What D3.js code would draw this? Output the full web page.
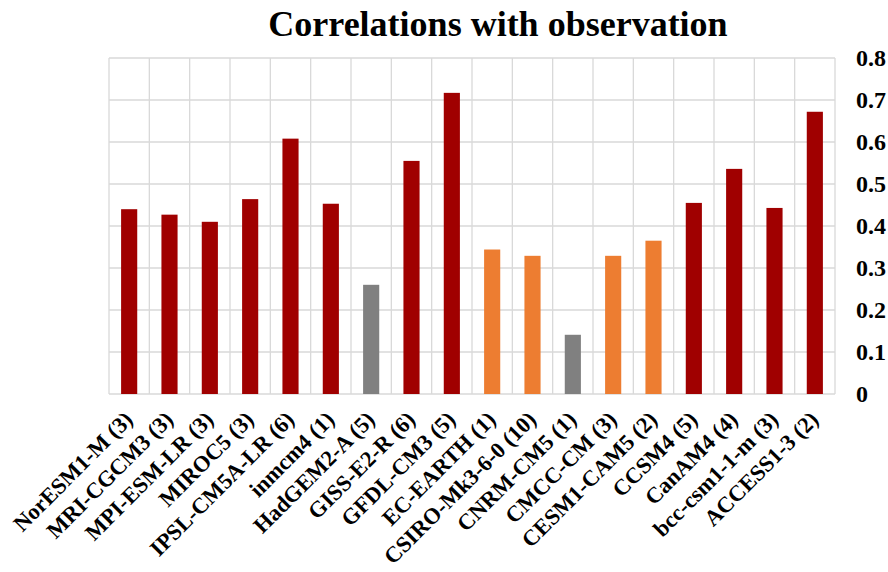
<!DOCTYPE html>
<html lang="en">
<head>
<meta charset="utf-8">
<title>Correlations with observation</title>
<script src="https://d3js.org/d3.v7.min.js"></script>
<style>
  body { margin: 0; background: #fff; }
  text { font-family: "Liberation Serif", "Times New Roman", serif; font-weight: bold; fill: #000; }
</style>
</head>
<body>
<div id="chart"></div>
<script>
// model names with ensemble size
var models = ["NorESM1-M (3)", "MRI-CGCM3 (3)", "MPI-ESM-LR (3)", "MIROC5 (3)", "IPSL-CM5A-LR (6)",
  "inmcm4 (1)", "HadGEM2-A (5)", "GISS-E2-R (6)", "GFDL-CM3 (5)", "EC-EARTH (1)",
  "CSIRO-Mk3-6-0 (10)", "CNRM-CM5 (1)", "CMCC-CM (3)", "CESM1-CAM5 (2)", "CCSM4 (5)",
  "CanAM4 (4)", "bcc-csm1-1-m (3)", "ACCESS1-3 (2)"];
var correlations = [0.440, 0.427, 0.410, 0.464, 0.608, 0.453, 0.260, 0.555, 0.717, 0.344,
  0.329, 0.141, 0.329, 0.365, 0.455, 0.536, 0.443, 0.672];
// colour group of each bar
var groups = ["a", "a", "a", "a", "a", "a", "c", "a", "a", "b",
  "b", "c", "b", "b", "a", "a", "a", "a"];
var yTicks = [0, 0.1, 0.2, 0.3, 0.4, 0.5, 0.6, 0.7, 0.8];

var width = 888, height = 572;
var margin = {top: 58, right: 53, bottom: 178, left: 109};

var data = models.map(function(m, i) {
  return {name: m, value: correlations[i], group: groups[i]};
});

var svg = d3.select("#chart").append("svg")
  .attr("width", width)
  .attr("height", height);

var x = d3.scaleBand()
  .domain(models)
  .range([margin.left, width - margin.right])
  .paddingInner(0)
  .paddingOuter(0);

var y = d3.scaleLinear()
  .domain([0, 0.8])
  .range([height - margin.bottom, margin.top]);

var color = d3.scaleOrdinal()
  .domain(["a", "b", "c"])
  .range(["#a00000", "#ed7d31", "#808080"]);

// gridlines
var grid = svg.append("g").attr("stroke", "#d9d9d9").attr("stroke-width", 1.3);
grid.selectAll("line.h")
  .data(yTicks)
  .enter().append("line")
  .attr("class", "h")
  .attr("x1", margin.left)
  .attr("x2", width - margin.right)
  .attr("y1", function(d) { return y(d); })
  .attr("y2", function(d) { return y(d); });

var bounds = models.map(function(m) { return x(m); }).concat([width - margin.right]);
grid.selectAll("line.v")
  .data(bounds)
  .enter().append("line")
  .attr("class", "v")
  .attr("x1", function(d) { return d; })
  .attr("x2", function(d) { return d; })
  .attr("y1", y(0.8))
  .attr("y2", y(0));

// bars
var barW = x.bandwidth() * 0.4;
svg.selectAll("rect.bar")
  .data(data)
  .enter().append("rect")
  .attr("class", "bar")
  .attr("x", function(d) { return x(d.name) + (x.bandwidth() - barW) / 2; })
  .attr("width", barW)
  .attr("y", function(d) { return y(d.value); })
  .attr("height", function(d) { return y(0) - y(d.value); })
  .attr("fill", function(d) { return color(d.group); });

// right y axis
var yAxis = d3.axisRight(y)
  .tickValues(yTicks)
  .tickSize(0)
  .tickPadding(21)
  .tickFormat(function(d) { return d === 0 ? "0" : d3.format(".1f")(d); });

var ya = svg.append("g")
  .attr("transform", "translate(" + (width - margin.right) + ",0)")
  .call(yAxis);
ya.select(".domain").remove();
ya.selectAll("text")
  .attr("font-size", 24)
  .attr("font-family", null);

// category labels, rotated
svg.selectAll("text.cat")
  .data(data)
  .enter().append("text")
  .attr("class", "cat")
  .attr("transform", function(d) {
    return "translate(" + (x(d.name) + x.bandwidth() / 2 + 5) + "," + (y(0) + 27) + ") rotate(-45)";
  })
  .attr("text-anchor", "end")
  .attr("font-size", 22.5)
  .text(function(d) { return d.name; });

// title
svg.append("text")
  .attr("x", 498)
  .attr("y", 36)
  .attr("text-anchor", "middle")
  .attr("font-size", 36)
  .text("Correlations with observation");
</script>
</body>
</html>
